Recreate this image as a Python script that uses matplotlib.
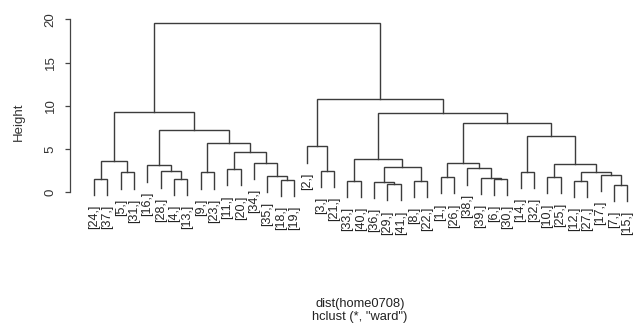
import matplotlib
matplotlib.use("Agg")
import matplotlib.pyplot as plt

plt.rcParams['font.family'] = ['Liberation Sans', 'DejaVu Sans']

# Leaf order as drawn (row indices of home0708)
leaf_order = [24, 37, 5, 31, 16, 28, 4, 13, 9, 23, 11, 20, 34, 35, 18, 19, 2,
              3, 21, 33, 40, 36, 29, 41, 8, 22, 1, 26, 38, 39, 6, 30, 14, 32,
              10, 25, 12, 27, 17, 7, 15]

# Merges: (left, right, height); ints = leaf ids, strings = earlier merge names
merge_names = ["m1", "m2", "m3", "m4", "m5", "m6", "m7", "m8", "m9", "m10",
               "m11", "m12", "m13", "m14", "m15",
               "r1", "r2", "r3", "r4", "r5", "r6", "r7", "r8", "r9", "r10",
               "r11", "r12", "r13", "r14", "r15", "r16", "r17", "r18", "r19",
               "r20", "r21", "r22", "r23", "r24", "root"]
merge_left = [24, 5, "m1", 4, 28, 16, 9, 11, 18, 35,
              34, "m8", "m7", "m6", "m3",
              3, 2, 33, 29, 36, 8, "r5", "r3", 1, 6,
              39, 38, "r9", 14, 10, 12, 7, 17, "r16",
              "r15", "r14", "r13", "r8", "r2", "m15"]
merge_right = [37, 31, "m2", 13, "m4", "m5", 23, 20, 19, "m9",
               "m10", "m11", "m12", "m13", "m14",
               21, "r1", 40, 41, "r4", 22, "r6", "r7", 26, 30,
               "r10", "r11", "r12", 32, 25, 27, 15, "r17", "r18",
               "r19", "r20", "r21", "r22", "r23", "r24"]
merge_height = [1.52, 2.29, 3.56, 1.52, 2.41, 3.10, 2.30, 2.66, 1.42, 1.86,
                3.42, 4.62, 5.67, 7.22, 9.28,
                2.50, 5.30, 1.31, 0.93, 1.16, 1.35, 2.91, 3.82, 1.73, 1.54,
                1.65, 2.77, 3.38, 2.39, 1.73, 1.29, 0.82, 2.05, 2.30,
                3.27, 6.53, 8.02, 9.20, 10.73, 19.56]

y_ticks = [0, 5, 10, 15, 20]

fig = plt.figure(figsize=(6.35, 3.25), dpi=100)
ax = fig.add_axes([70 / 635, 1 - 208.6 / 325, 565 / 635, (208.6 - 16.0) / 325])

line_col = "#3c3c3c"
lw = 1.0

pos = {leaf: i + 1 for i, leaf in enumerate(leaf_order)}
hang = 0.1 * (max(merge_height) - min(merge_height))
node_x = {}
node_y = {}

for name, a, b, h in zip(merge_names, merge_left, merge_right, merge_height):
    xs, ys = [], []
    for c in (a, b):
        if isinstance(c, str):
            xs.append(node_x[c])
            ys.append(node_y[c])
        else:
            xc = pos[c]
            yb = h - hang
            xs.append(xc)
            ys.append(yb)
            ax.annotate(f"[{c},]", xy=(xc, yb), xytext=(0, -7.0),
                        textcoords="offset points", rotation=90,
                        ha="center", va="top", fontsize=9.0, color="#222222")
    ax.plot([xs[0], xs[0], xs[1], xs[1]], [ys[0], h, h, ys[1]],
            color=line_col, lw=lw, solid_joinstyle="miter")
    node_x[name] = (xs[0] + xs[1]) / 2
    node_y[name] = h

ax.set_xlim(-0.8, 41.58)
ax.set_ylim(-1.89, 20.38)
for s in ("top", "right", "bottom"):
    ax.spines[s].set_visible(False)
ax.spines["left"].set_bounds(0, 20)
ax.spines["left"].set_color("#444444")
ax.spines["left"].set_linewidth(0.9)
ax.set_xticks([])
ax.set_yticks(y_ticks)
ax.set_yticklabels([str(t) for t in y_ticks], rotation=90, va="center")
ax.tick_params(axis="y", length=3.6, width=0.9, color="#444444", pad=6,
               labelsize=9.5, labelcolor="#333333")
ax.patch.set_visible(False)

fig.text(19 / 635, 1 - 122 / 325, "Height", rotation=90, ha="center",
         va="center", fontsize=9.5, color="#333333")
fig.text(360 / 635, 1 - 303.5 / 325, "dist(home0708)", ha="center",
         va="center", fontsize=9.3, color="#222222")
fig.text(360 / 635, 1 - 317 / 325, 'hclust (*, "ward")', ha="center",
         va="center", fontsize=9.3, color="#222222")

fig.savefig("out.png", dpi=100)
